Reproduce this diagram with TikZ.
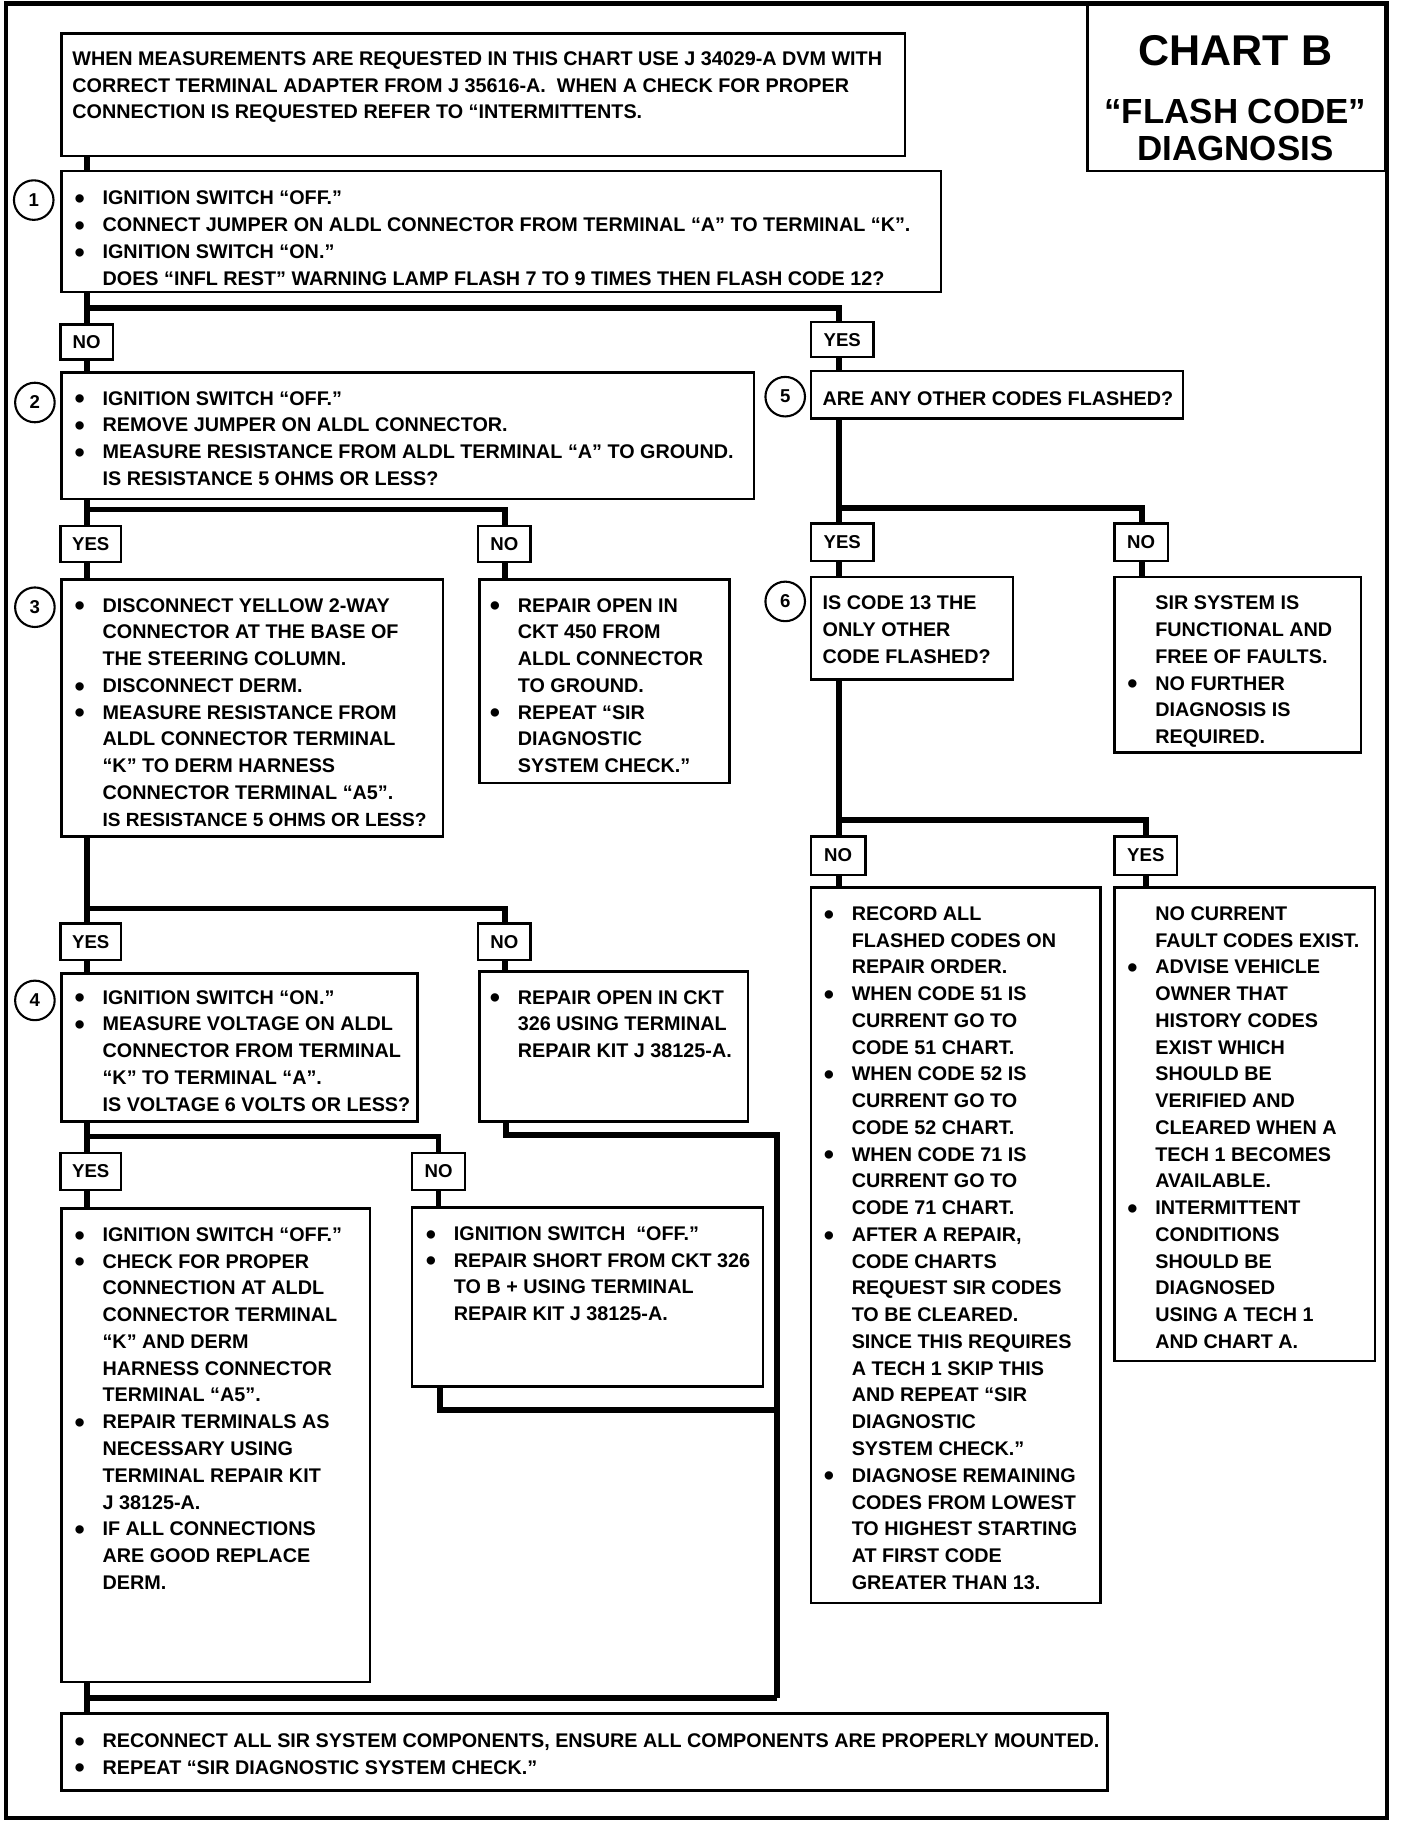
\documentclass[tikz,border=0pt]{standalone}
\usepackage{fontspec}
\setmainfont{Liberation Sans}
\newcommand\txtf{\fontsize{17}{23}\selectfont\bfseries}
\newcommand\labf{\fontsize{16}{16}\selectfont\bfseries}
\newcommand\numf{\fontsize{16}{16}\selectfont\bfseries}
\newcommand\fs{\rule{0pt}{12pt}}
\newcommand\bl{\makebox[24pt][l]{\fs\raisebox{-3.2pt}{\fontsize{25}{25}\selectfont•}}}
\newcommand\nb{\makebox[24pt][l]{\fs}}
\newcommand\bx[5]{\node[box,minimum width={#4-#2},minimum height={#5-#3}] (#1) at (#2,#3) {};}
\newcommand\lb[6]{\node[lab,minimum width={#4-#2},minimum height={#5-#3}] (#1) at (#2,#3) {#6};}
\begin{document}
\begin{tikzpicture}[x=1pt,y=-1pt,
  box/.style={draw,line width=2.2pt,inner sep=0pt,outer sep=0pt,anchor=north west},
  lab/.style={draw,line width=2pt,inner sep=0pt,outer sep=0pt,anchor=north west,font=\labf},
  conn/.style={line width=5pt},
  txt/.style={inner sep=0pt,anchor=north west,align=left,font=\txtf},
  num/.style={draw,circle,line width=1.8pt,minimum size=34pt,inner sep=0pt,font=\numf},
  ttl/.style={inner sep=0pt,anchor=center}]
\useasboundingbox (0,0) rectangle (1210,1568);
\draw[line width=3.5pt] (5,3) rectangle (1192,1563);

% boxes
\bx{chart}{935}{3}{1191}{147}
\bx{b0}{53}{29}{778}{134}
\bx{b1}{53}{147}{809}{251}
\bx{b2}{53}{320}{648}{429}
\bx{b3}{53}{498}{381}{719}
\bx{b3n}{412}{498}{627}{673}
\bx{b4}{53}{837}{359}{964}
\bx{b4n}{412}{835}{643}{964}
\bx{b4y}{53}{1039}{318}{1446}
\bx{b4ny}{354}{1038}{656}{1192}
\bx{bf}{53}{1473}{952}{1539}
\bx{b5}{697}{319}{1017}{360}
\bx{b6}{697}{496}{871}{584}
\bx{b6n}{958}{496}{1170}{647}
\bx{b6nn}{697}{763}{946}{1378}
\bx{b6ny}{958}{763}{1182}{1170}

% labels
\lb{l1n}{52}{279}{97}{309}{NO}
\lb{l1y}{697}{277}{751}{307}{YES}
\lb{l2y}{52}{452}{104}{483}{YES}
\lb{l2n}{411}{452}{456}{483}{NO}
\lb{l3y}{52}{794}{104}{825}{YES}
\lb{l3n}{411}{794}{456}{825}{NO}
\lb{l4y}{52}{991}{104}{1023}{YES}
\lb{l4n}{354}{991}{400}{1023}{NO}
\lb{l5y}{697}{450}{751}{482}{YES}
\lb{l5n}{958}{450}{1004}{482}{NO}
\lb{l6n}{697}{719}{744}{752}{NO}
\lb{l6y}{958}{719}{1012}{752}{YES}

% circles
\node[num] (c1) at (29,172) {1};
\node[num] (c2) at (30,346) {2};
\node[num] (c3) at (30,522) {3};
\node[num] (c4) at (30,860) {4};
\node[num] (c5) at (675,341) {5};
\node[num] (c6) at (675,517) {6};

% junction coordinates
\coordinate (j1) at (75,265);
\coordinate (jr1) at (721,265);
\coordinate (j2) at (75,438);
\coordinate (j2n) at (434,438);
\coordinate (j3) at (75,781);
\coordinate (j3n) at (434,781);
\coordinate (j4) at (75,977);
\coordinate (j4n) at (377,977);
\coordinate (j5) at (75,1460);
\coordinate (jc) at (668,1460);
\coordinate (jk) at (435,976);
\coordinate (jm) at (378,1212);
\coordinate (jr2) at (721,437);
\coordinate (jr2n) at (982,437);
\coordinate (jr3) at (721,705);
\coordinate (jr3y) at (985,705);

% connectors
\draw[conn] (b0.south -| j1) -- (b1.north -| j1);
\draw[conn] (b1.south -| j1) -- (l1n.north -| j1);
\draw[conn] (j1) -| (l1y.north -| jr1);
\draw[conn] (l1n.south -| j1) -- (b2.north -| j1);
\draw[conn] (l1y.south -| jr1) -- (b5.north -| jr1);
\draw[conn] (b2.south -| j2) -- (l2y.north -| j2);
\draw[conn] (j2) -| (l2n.north -| j2n);
\draw[conn] (l2y.south -| j2) -- (b3.north -| j2);
\draw[conn] (l2n.south -| j2n) -- (b3n.north -| j2n);
\draw[conn] (b3.south -| j3) -- (l3y.north -| j3);
\draw[conn] (j3) -| (l3n.north -| j3n);
\draw[conn] (l3y.south -| j3) -- (b4.north -| j3);
\draw[conn] (l3n.south -| j3n) -- (b4n.north -| j3n);
\draw[conn] (b4.south -| j4) -- (l4y.north -| j4);
\draw[conn] (j4) -| (l4n.north -| j4n);
\draw[conn] (l4y.south -| j4) -- (b4y.north -| j4);
\draw[conn] (l4n.south -| j4n) -- (b4ny.north -| j4n);
\draw[conn] (b4y.south -| j5) -- (bf.north -| j5);
\draw[conn] (j5) -- (jc);
\draw[conn] (b4n.south -| jk) -- (jk) -| (jc);
\draw[conn] (b4ny.south -| jm) -- (jm) -- (jm -| jc);
\draw[conn] (b5.south -| jr2) -- (l5y.north -| jr2);
\draw[conn] (jr2) -| (l5n.north -| jr2n);
\draw[conn] (l5y.south -| jr2) -- (b6.north -| jr2);
\draw[conn] (l5n.south -| jr2n) -- (b6n.north -| jr2n);
\draw[conn] (b6.south -| jr3) -- (l6n.north -| jr3);
\draw[conn] (jr3) -| (l6y.north -| jr3y);
\draw[conn] (l6n.south -| jr3) -- (b6nn.north -| jr3);
\draw[conn] (l6y.south -| jr3y) -- (b6ny.north -| jr3y);

% title
\node[ttl,font=\fontsize{37}{37}\selectfont\bfseries] (tt1) at (1062,44) {CHART B};
\node[ttl,font=\fontsize{30}{30}\selectfont\bfseries] (tt2) at (1062,96) {“FLASH CODE”};
\node[ttl,font=\fontsize{30}{30}\selectfont\bfseries] (tt3) at (1062,128) {DIAGNOSIS};

% texts
\node[txt] (t0) at (62,44) {\fs WHEN MEASUREMENTS ARE REQUESTED IN THIS CHART USE J 34029-A DVM WITH\\
CORRECT TERMINAL ADAPTER FROM J 35616-A.\ \ WHEN A CHECK FOR PROPER\\
CONNECTION IS REQUESTED REFER TO “INTERMITTENTS.};
\node[txt] (t1) at (64,164) {\bl IGNITION SWITCH “OFF.”\\
\bl CONNECT JUMPER ON ALDL CONNECTOR FROM TERMINAL “A” TO TERMINAL “K”.\\
\bl IGNITION SWITCH “ON.”\\
\nb DOES “INFL REST” WARNING LAMP FLASH 7 TO 9 TIMES THEN FLASH CODE 12?};
\node[txt] (t2) at (64,336) {\bl IGNITION SWITCH “OFF.”\\
\bl REMOVE JUMPER ON ALDL CONNECTOR.\\
\bl MEASURE RESISTANCE FROM ALDL TERMINAL “A” TO GROUND.\\
\nb IS RESISTANCE 5 OHMS OR LESS?};
\node[txt] (t3) at (64,514) {\bl DISCONNECT YELLOW 2-WAY\\
\nb CONNECTOR AT THE BASE OF\\
\nb THE STEERING COLUMN.\\
\bl DISCONNECT DERM.\\
\bl MEASURE RESISTANCE FROM\\
\nb ALDL CONNECTOR TERMINAL\\
\nb “K” TO DERM HARNESS\\
\nb CONNECTOR TERMINAL “A5”.\\
\nb {\fontsize{16.4}{23}\selectfont IS RESISTANCE 5 OHMS OR LESS?}};
\node[txt] (t3n) at (421,514) {\bl REPAIR OPEN IN\\
\nb CKT 450 FROM\\
\nb ALDL CONNECTOR\\
\nb TO GROUND.\\
\bl REPEAT “SIR\\
\nb DIAGNOSTIC\\
\nb SYSTEM CHECK.”};
\node[txt] (t4) at (64,851) {\bl IGNITION SWITCH “ON.”\\
\bl MEASURE VOLTAGE ON ALDL\\
\nb CONNECTOR FROM TERMINAL\\
\nb “K” TO TERMINAL “A”.\\
\nb IS VOLTAGE 6 VOLTS OR LESS?};
\node[txt] (t4n) at (421,851) {\bl REPAIR OPEN IN CKT\\
\nb 326 USING TERMINAL\\
\nb REPAIR KIT J 38125-A.};
\node[txt] (t4y) at (64,1055) {\bl IGNITION SWITCH “OFF.”\\
\bl CHECK FOR PROPER\\
\nb CONNECTION AT ALDL\\
\nb CONNECTOR TERMINAL\\
\nb “K” AND DERM\\
\nb HARNESS CONNECTOR\\
\nb TERMINAL “A5”.\\
\bl REPAIR TERMINALS AS\\
\nb NECESSARY USING\\
\nb TERMINAL REPAIR KIT\\
\nb J 38125-A.\\
\bl IF ALL CONNECTIONS\\
\nb ARE GOOD REPLACE\\
\nb DERM.};
\node[txt] (t4ny) at (366,1054) {\bl IGNITION SWITCH\ \ “OFF.”\\
\bl REPAIR SHORT FROM CKT 326\\
\nb TO B + USING TERMINAL\\
\nb REPAIR KIT J 38125-A.};
\node[txt] (tf) at (64,1490) {\bl RECONNECT ALL SIR SYSTEM COMPONENTS, ENSURE ALL COMPONENTS ARE PROPERLY MOUNTED.\\
\bl REPEAT “SIR DIAGNOSTIC SYSTEM CHECK.”};
\node[txt] (t5) at (707,336) {\fs ARE ANY OTHER CODES FLASHED?};
\node[txt] (t6) at (707,512) {\fs IS CODE 13 THE\\ONLY OTHER\\CODE FLASHED?};
\node[txt] (t6n) at (969,512) {\nb SIR SYSTEM IS\\
\nb FUNCTIONAL AND\\
\nb FREE OF FAULTS.\\
\bl NO FURTHER\\
\nb DIAGNOSIS IS\\
\nb REQUIRED.};
\node[txt] (t6nn) at (708,779) {\bl RECORD ALL\\
\nb FLASHED CODES ON\\
\nb REPAIR ORDER.\\
\bl WHEN CODE 51 IS\\
\nb CURRENT GO TO\\
\nb CODE 51 CHART.\\
\bl WHEN CODE 52 IS\\
\nb CURRENT GO TO\\
\nb CODE 52 CHART.\\
\bl WHEN CODE 71 IS\\
\nb CURRENT GO TO\\
\nb CODE 71 CHART.\\
\bl AFTER A REPAIR,\\
\nb CODE CHARTS\\
\nb REQUEST SIR CODES\\
\nb TO BE CLEARED.\\
\nb SINCE THIS REQUIRES\\
\nb A TECH 1 SKIP THIS\\
\nb AND REPEAT “SIR\\
\nb DIAGNOSTIC\\
\nb SYSTEM CHECK.”\\
\bl DIAGNOSE REMAINING\\
\nb CODES FROM LOWEST\\
\nb TO HIGHEST STARTING\\
\nb AT FIRST CODE\\
\nb GREATER THAN 13.};
\node[txt] (t6ny) at (969,779) {\nb NO CURRENT\\
\nb FAULT CODES EXIST.\\
\bl ADVISE VEHICLE\\
\nb OWNER THAT\\
\nb HISTORY CODES\\
\nb EXIST WHICH\\
\nb SHOULD BE\\
\nb VERIFIED AND\\
\nb CLEARED WHEN A\\
\nb TECH 1 BECOMES\\
\nb AVAILABLE.\\
\bl INTERMITTENT\\
\nb CONDITIONS\\
\nb SHOULD BE\\
\nb DIAGNOSED\\
\nb USING A TECH 1\\
\nb AND CHART A.};
\end{tikzpicture}
\end{document}
